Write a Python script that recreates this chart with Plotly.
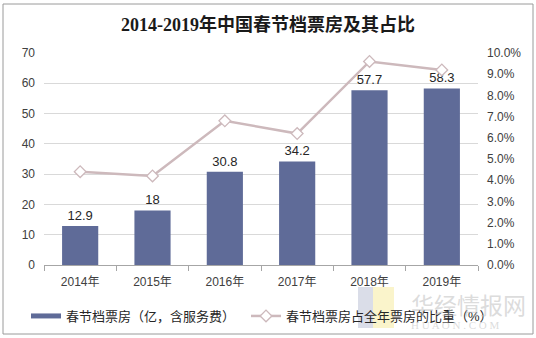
import plotly.graph_objects as go

# 春节档票房及占全年票房比重
years = ["2014年", "2015年", "2016年", "2017年", "2018年", "2019年"]
box_office = [12.9, 18, 30.8, 34.2, 57.7, 58.3]          # 亿元，含服务费
share_pct = [4.4, 4.2, 6.8, 6.2, 9.6, 9.2]               # %

left_ticks = [0, 10, 20, 30, 40, 50, 60, 70]
right_ticks = [0, 1, 2, 3, 4, 5, 6, 7, 8, 9, 10]
right_tick_text = [f"{v:.1f}%" for v in right_ticks]

bar_name = "春节档票房（亿，含服务费）"
line_name = "春节档票房占全年票房的比重（%）"

W, H = 536, 338
L, R, T, B = 44, 58, 53, 73
pw, ph = W - L - R, H - T - B

def px_x(x):
    return (x - L) / pw

def px_y(y):
    return (H - B - y) / ph

sans = "Liberation Sans, Arial, Noto Sans CJK SC"
bar_color = "#5f6b98"
line_color = "#cdb9bc"

fig = go.Figure()
fig.add_trace(go.Bar(
    x=years, y=box_office, name=bar_name, showlegend=False,
    marker=dict(color=bar_color, line=dict(width=0)),
    text=[f"{v:g}" for v in box_office], textposition="outside",
    textfont=dict(size=13, color="#262626", family=sans),
    cliponaxis=False, yaxis="y",
))
# flat swatch for the bar series in the legend
fig.add_trace(go.Scatter(
    x=[None], y=[None], name=bar_name, mode="lines",
    line=dict(color=bar_color, width=5), yaxis="y", legend="legend",
))
fig.add_trace(go.Scatter(
    x=years, y=share_pct, name=line_name,
    mode="lines+markers", yaxis="y2", legend="legend2",
    line=dict(color=line_color, width=2.5),
    marker=dict(symbol="diamond", size=9, color="white",
                line=dict(color=line_color, width=1.3)),
    cliponaxis=False,
))

shapes = [
    # outer frame
    dict(type="rect", xref="paper", yref="paper",
         x0=px_x(3), x1=px_x(533), y0=px_y(334), y1=px_y(4),
         line=dict(color="#9a9a9a", width=1), fillcolor="rgba(0,0,0,0)", layer="below"),
    # watermark logo blocks
    dict(type="rect", xref="paper", yref="paper",
         x0=px_x(358), x1=px_x(373), y0=px_y(328), y1=px_y(287),
         line=dict(width=0), fillcolor="rgba(150,158,190,0.35)", layer="below"),
    dict(type="rect", xref="paper", yref="paper",
         x0=px_x(373), x1=px_x(394), y0=px_y(328), y1=px_y(287),
         line=dict(width=0), fillcolor="rgba(245,230,140,0.45)", layer="below"),
]

annotations = [
    dict(text="华经情报网", xref="paper", yref="paper", x=px_x(468), y=px_y(304),
         showarrow=False, font=dict(size=23, color="rgba(190,190,190,0.55)",
                                    family="Noto Sans CJK SC"),
         xanchor="center", yanchor="middle"),
    dict(text="H U A O N . C O M", xref="paper", yref="paper", x=px_x(455), y=px_y(325),
         showarrow=False, font=dict(size=11, color="rgba(190,190,190,0.55)",
                                    family="Liberation Serif"),
         xanchor="center", yanchor="middle"),
]

legend_common = dict(orientation="h", xref="container", yref="container",
                     y=(H - 316) / H, yanchor="middle", xanchor="left",
                     font=dict(size=13, color="#262626", family=sans),
                     itemwidth=30, bgcolor="rgba(0,0,0,0)")

fig.update_layout(
    width=W, height=H,
    margin=dict(l=L, r=R, t=T, b=B, autoexpand=False),
    paper_bgcolor="white", plot_bgcolor="white",
    title=dict(text="<b>2014-2019年中国春节档票房及其占比</b>",
               x=0.5, xref="container", xanchor="center",
               y=1 - 25 / H, yref="container", yanchor="middle",
               font=dict(size=18, color="#1a1a1a",
                         family="Liberation Serif, Noto Sans CJK SC")),
    bargap=0.5,
    showlegend=True,
    legend=dict(legend_common, x=26 / W),
    legend2=dict(legend_common, x=246 / W),
    xaxis=dict(
        showgrid=False, showline=True, linecolor="#a6a6a6", linewidth=1,
        ticks="outside", ticklen=5, tickcolor="#a6a6a6",
        tickson="boundaries", ticklabelstandoff=6,
        tickfont=dict(size=12, color="#404040", family=sans),
    ),
    yaxis=dict(
        range=[0, 70], tickvals=left_ticks, showline=False,
        showgrid=True, gridcolor="#d9d9d9", gridwidth=1, zeroline=False,
        tickfont=dict(size=12, color="#404040", family=sans),
        ticks="", ticklabelstandoff=8,
    ),
    yaxis2=dict(
        range=[0, 10], tickvals=right_ticks, ticktext=right_tick_text,
        overlaying="y", side="right",
        showgrid=False, zeroline=False, showline=False,
        tickfont=dict(size=12, color="#404040", family=sans),
        ticklabelstandoff=8,
    ),
    shapes=shapes,
    annotations=annotations,
)

fig.write_html("out.html")
